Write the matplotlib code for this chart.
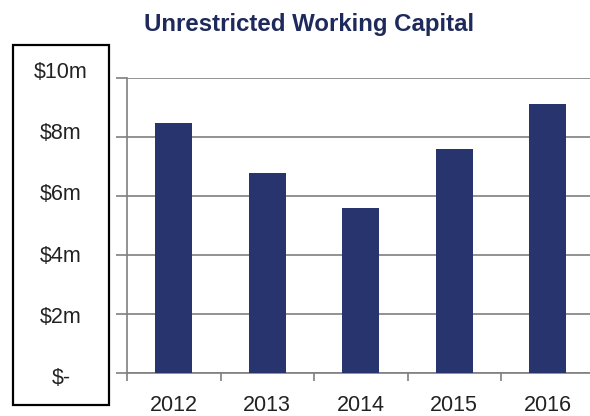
import matplotlib
matplotlib.use("Agg")
import matplotlib.pyplot as plt
import matplotlib.transforms as mtransforms
from matplotlib.patches import Rectangle

years = ["2012", "2013", "2014", "2015", "2016"]
capital_m = [8.47, 6.78, 5.59, 7.59, 9.12]
tick_values = [10, 8, 6, 4, 2, 0]
tick_labels = ["$10m", "$8m", "$6m", "$4m", "$2m", "$-"]

bar_color = "#28346e"
title_color = "#1f2a5c"
grid_color = "#7f7f7f"

plt.rcParams["font.family"] = ["Liberation Sans", "DejaVu Sans"]

fig = plt.figure(figsize=(5.9, 4.16), dpi=100)
ax = fig.add_axes([127 / 590, 43 / 416, 467.5 / 590, 295 / 416])

x = list(range(len(years)))
ax.bar(x, capital_m, width=0.4, color=bar_color, zorder=3)

ax.set_xlim(-0.5, len(years) - 0.5)
ax.set_ylim(0, 10)

# horizontal gridlines, with short stubs sticking out left of the axis
ax.set_yticks(tick_values)
ax.set_yticklabels([])
ax.yaxis.grid(True, color=grid_color, linewidth=1.2, zorder=1)
ax.tick_params(axis="y", direction="out", length=8, width=1.2, color=grid_color)

# category labels under the bars, tick marks between categories
ax.set_xticks(x)
ax.set_xticklabels(years, fontsize=15.5, color="#222222")
ax.tick_params(axis="x", which="major", length=0, pad=15.5)
ax.set_xticks([i - 0.5 for i in range(len(years) + 1)], minor=True)
ax.tick_params(axis="x", which="minor", direction="out", length=6, width=1.2, color=grid_color)

for side in ["top", "right"]:
    ax.spines[side].set_visible(False)
for side in ["left", "bottom"]:
    ax.spines[side].set_color(grid_color)
    ax.spines[side].set_linewidth(1.2)

# value labels sit in a framed box left of the plot
trans = mtransforms.blended_transform_factory(fig.transFigure, ax.transData)
for v, lab in zip(tick_values, tick_labels):
    fig.text(61 / 590, v * 1.04 - 0.2, lab, transform=trans, ha="center", va="center",
             fontsize=15.5, color="#222222")
fig.patches.append(Rectangle((13 / 590, 11 / 416), 96 / 590, 360 / 416, transform=fig.transFigure,
                             fill=False, edgecolor="black", linewidth=1.6))

fig.text(309 / 590, 1 - 25 / 416, "Unrestricted Working Capital", ha="center", va="center",
         fontsize=17.3, fontweight="bold", color=title_color)

fig.savefig("out.png", dpi=100)
